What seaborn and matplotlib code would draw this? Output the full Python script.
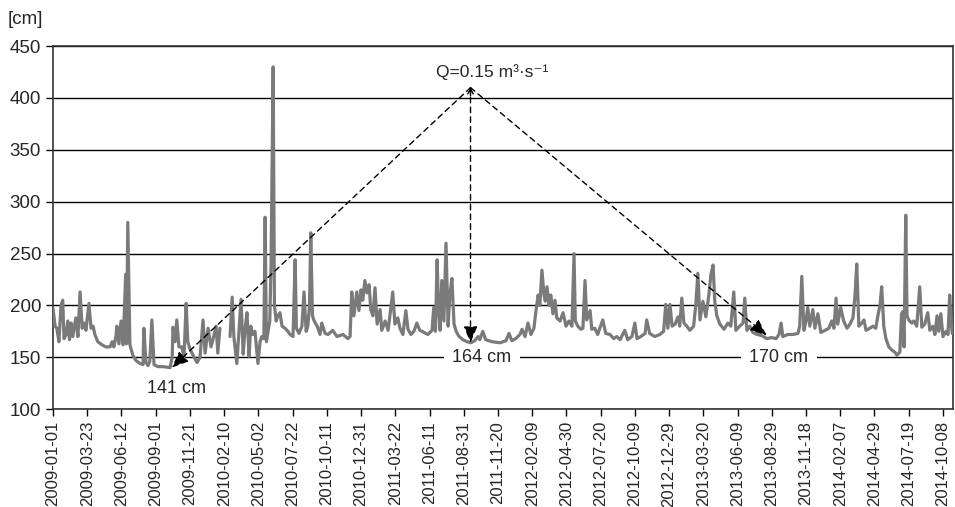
"""
Water level at the gauge, 2009-01-01 .. 2014-10-31, with the stage that
corresponds to Q = 0.15 m3/s marked for three low-water periods.

Output: out.png
"""

import matplotlib.dates as mdates
import matplotlib.pyplot as plt
import numpy as np
import pandas as pd
import seaborn as sns

START = pd.Timestamp("2009-01-01")
END = pd.Timestamp("2014-11-01")

# days after START (NaN marks the gap in the record)
DAYS = [
    0, 5, 9, 14, 19, 23, 26, 31, 35, 39, 43, 47, 54, 59, 64, 69, 73, 78, 85, 90,
    95, 99, 106, 116, 125, 135, 140, 144, 149, 151, 156, 161, 166, 172, 174, 177,
    182, 189, 196, 206, 213, 215, 220, 225, 229, 234, 239, 248, 260, 277, 282, 284,
    289, 293, 298, 305, 310, 315, 319, 324, 334, 341, 348, 355, 360, 367, 374, 379,
    386, 390, 395, 407,
    419, 424, 428, 435, 440, 445, 450, 454, 459, 464, 468, 473, 478, 485, 490, 494,
    499, 502, 505, 509, 513, 516, 521, 524, 528, 532, 537, 542, 549, 556, 561, 568,
    573, 576, 582, 589, 594, 599, 603, 607, 610, 614, 618, 625, 632, 636, 644, 651,
    662, 672, 686, 698, 703, 707, 712, 719, 724, 729, 733, 738, 743, 748, 752, 757,
    762, 767, 774, 778, 786, 793, 804, 809, 816, 821, 828, 835, 840, 847, 854, 861,
    868, 878, 887, 897, 901, 905, 909, 912, 916, 920, 925, 930, 935, 939, 944, 949,
    954, 961, 970, 980, 989, 998, 1006, 1010, 1017, 1024, 1039, 1058, 1072, 1079,
    1086, 1095, 1105, 1110, 1117, 1124, 1131, 1138, 1143, 1148, 1152, 1157, 1162,
    1165, 1169, 1174, 1178, 1183, 1188, 1192, 1200, 1207, 1214, 1221, 1228, 1233,
    1236, 1242, 1249, 1254, 1259, 1263, 1271, 1275, 1282, 1289, 1294, 1301, 1308,
    1318, 1327, 1334, 1342, 1353, 1360, 1370, 1377, 1382, 1391, 1401, 1405, 1412,
    1424, 1436, 1445, 1450, 1455, 1460, 1465, 1472, 1479, 1483, 1488, 1493, 1500,
    1507, 1516, 1521, 1526, 1531, 1538, 1545, 1552, 1557, 1562, 1566, 1571, 1578,
    1588, 1597, 1604, 1611, 1616, 1625, 1633, 1637, 1642, 1649, 1656, 1666, 1677,
    1689, 1701, 1711, 1718, 1723, 1727, 1739, 1751, 1763, 1767, 1772, 1777, 1782,
    1786, 1791, 1798, 1803, 1810, 1817, 1827, 1836, 1843, 1848, 1853, 1857, 1864,
    1871, 1879, 1886, 1893, 1898, 1902, 1907, 1914, 1919, 1924, 1933, 1940, 1947,
    1952, 1957, 1961, 1966, 1971, 1978, 1985, 1992, 1997, 2004, 2008, 2011, 2014,
    2018, 2021, 2025, 2032, 2037, 2044, 2051, 2056, 2063, 2070, 2075, 2082, 2087,
    2092, 2096, 2101, 2106, 2113, 2118, 2122, 2125, 2128,
]

LEVEL_CM = [
    197, 180, 178, 165, 200, 205, 168, 172, 185, 167, 183, 170, 188, 170, 213, 178,
    183, 176, 202, 178, 180, 172, 165, 162, 160, 160, 165, 160, 170, 180, 163, 185,
    162, 230, 163, 280, 162, 152, 147, 144, 143, 178, 145, 142, 146, 186, 143, 141,
    141, 140, 150, 179, 165, 186, 160, 160, 150, 202, 165, 158, 150, 145, 150, 186,
    154, 178, 160, 168, 180, 154, 178, np.nan,
    170, 208, 170, 144, 175, 206, 153, 175, 193, 151, 180, 172, 175, 144, 165, 170,
    168, 285, 165, 175, 185, 240, 430, 200, 185, 190, 193, 180, 178, 175, 172, 170,
    244, 178, 173, 180, 213, 175, 180, 200, 270, 190, 185, 180, 172, 183, 173, 172,
    176, 170, 172, 168, 170, 213, 190, 213, 195, 215, 205, 224, 212, 220, 196, 190,
    217, 182, 196, 176, 185, 176, 213, 182, 188, 178, 172, 195, 177, 172, 175, 183,
    176, 174, 172, 176, 198, 175, 244, 200, 176, 224, 185, 260, 180, 210, 226, 182,
    175, 170, 167, 165, 164, 166, 170, 167, 175, 167, 165, 164, 166, 173,
    166, 168, 172, 177, 170, 183, 172, 178, 195, 210, 200, 234, 210,
    204, 218, 200, 210, 192, 205, 188, 185, 193, 180, 185, 180, 250,
    185, 180, 177, 178, 224, 186, 195, 177, 178, 172, 178, 186, 173,
    172, 168, 170, 167, 176, 167, 170, 183, 168, 170, 173, 186, 173,
    170, 172, 175, 201, 178, 201, 180, 182, 189, 180, 207, 183, 180,
    176, 180, 200, 231, 186, 204, 189, 210, 230, 239, 204, 190, 182,
    177, 183, 180, 213, 176, 180, 183, 207, 176, 180, 174, 172, 171,
    168, 169, 168, 172, 183, 170, 172, 172, 173, 180, 228, 176, 185,
    198, 180, 196, 178, 192, 174, 176, 178, 185, 178, 207, 182, 198,
    185, 178, 182, 188, 210, 240, 180, 183, 186, 176, 178, 180, 178,
    190, 200, 218, 180, 168, 160, 157, 155, 152, 155, 192, 194, 160,
    287, 190, 186, 183, 185, 180, 218, 179, 182, 193, 176, 180, 172,
    190, 175, 192, 170, 175, 172, 210, 185, 173,
]

# stage for Q = 0.15 m3/s in three dry spells: (day after START, level)
APEX = (988, 410)
TARGET_DAYS = [281, 988, 1689]
TARGET_LEVELS = [140, 164, 171]
LABELS = ["141 cm", "164 cm", "170 cm"]
LABEL_DAYS = [293, 1015, 1718]
LABEL_LEVELS = [120, 150, 150]

TICK_STEP_DAYS = 81
N_TICKS = 27

LINE_COLOR = "#7a7a7a"
TEXT_COLOR = "#262626"


def day_num(d):
    return mdates.date2num(START + pd.Timedelta(days=d))


def main() -> None:
    df = pd.DataFrame({"day": DAYS, "level": LEVEL_CM})
    df["segment"] = df["level"].isna().cumsum()
    df = df.dropna()
    df["date"] = START + pd.to_timedelta(df["day"], unit="D")

    sns.set_style("ticks")
    plt.rcParams["font.family"] = ["Liberation Sans", "DejaVu Sans"]

    fig, ax = plt.subplots(figsize=(9.55, 5.07), dpi=100)
    fig.subplots_adjust(left=0.0555, right=0.998, top=0.909, bottom=0.193)

    ax.set_axisbelow(True)
    ax.grid(axis="y", color="black", lw=1.0)
    sns.lineplot(data=df, x="date", y="level", units="segment", estimator=None,
                 color=LINE_COLOR, lw=2.3, ax=ax, zorder=3)

    ax.set_xlim(START, END)
    ax.set_ylim(100, 450)
    ax.set_yticks(range(100, 451, 50))
    ticks = pd.date_range(START, periods=N_TICKS, freq=f"{TICK_STEP_DAYS}D")
    ax.set_xticks(ticks)
    ax.set_xticklabels([t.strftime("%Y-%m-%d") for t in ticks], rotation=90)
    ax.tick_params(axis="both", labelcolor=TEXT_COLOR, color="black", length=5,
                   width=1, direction="out")
    ax.tick_params(axis="x", labelsize=12)
    ax.tick_params(axis="y", labelsize=13.5)
    ax.set_xlabel("")
    ax.set_ylabel("")
    for sp in ax.spines.values():
        sp.set_color("#333333")
        sp.set_linewidth(1.2)

    fig.text(0.008, 0.962, "[cm]", fontsize=13.5, color=TEXT_COLOR,
             ha="left", va="center")

    apex = (day_num(APEX[0]), APEX[1])
    for d, v in zip(TARGET_DAYS, TARGET_LEVELS):
        ax.annotate("", xy=(day_num(d), v), xytext=apex, zorder=5,
                    arrowprops=dict(arrowstyle="-|>,head_length=1.0,head_width=0.42",
                                    linestyle=(0, (4, 3)), color="black", lw=1.0,
                                    shrinkA=0, shrinkB=0))
    ax.annotate("", xy=apex, xytext=(apex[0], APEX[1] - 8), zorder=5,
                arrowprops=dict(arrowstyle="->,head_length=0.35,head_width=0.2",
                                color="black", lw=1.0, shrinkA=0, shrinkB=0))
    ax.text(day_num(1039), 425, "Q=0.15 m³·s⁻¹", fontsize=12.5, color=TEXT_COLOR,
            ha="center", va="center", zorder=6)

    for lab, d, v in zip(LABELS, LABEL_DAYS, LABEL_LEVELS):
        ax.text(day_num(d), v, lab, fontsize=13, color=TEXT_COLOR,
                ha="center", va="center", zorder=2,
                bbox=dict(facecolor="white", edgecolor="none", pad=6))

    fig.savefig("out.png", dpi=100)
    plt.close(fig)


if __name__ == "__main__":
    main()
